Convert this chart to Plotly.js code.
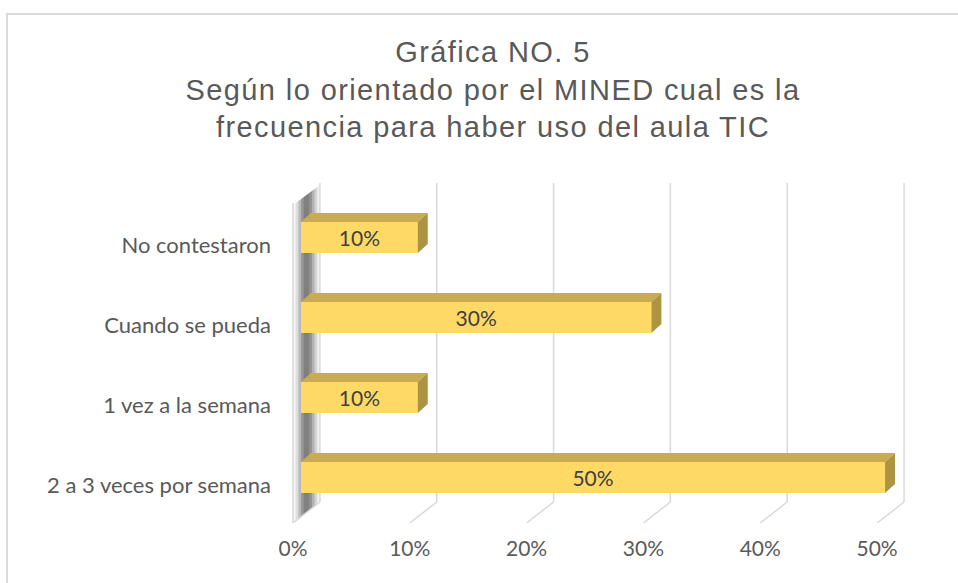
<!DOCTYPE html>
<html>
<head>
<meta charset="utf-8">
<script src="https://cdn.plot.ly/plotly-3.0.1.min.js"></script>
<style>
html,body{margin:0;padding:0;overflow:hidden;background:#fff;}
#wrap{position:relative;width:958px;height:583px;overflow:hidden;}
#chart{position:absolute;left:0;top:0;width:958px;height:583px;}
#frame{position:absolute;left:6px;top:13px;width:1200px;height:1000px;border:2px solid #d9d9d9;pointer-events:none;}
#chart .gtitle{letter-spacing:1.4px;}
</style>
</head>
<body>
<div id="wrap"><div id="chart"></div><div id="frame"></div></div>
<script>
// ---- data ----
const categories = ['2 a 3 veces por semana', '1 vez a la semana', 'Cuando se pueda', 'No contestaron'];
const values = [0.5, 0.1, 0.3, 0.1];
const tickValues = [0, 0.1, 0.2, 0.3, 0.4, 0.5];
const tickLabels = ['0%', '10%', '20%', '30%', '40%', '50%'];
const titleText = 'Gráfica NO. 5<br>Según lo orientado por el MINED cual es la<br>frecuencia para haber uso del aula TIC';

// ---- geometry (pixel scales of the 3D look) ----
const PXX = 1170;           // px per unit on x
const PXY = 80;             // px per category on y
const px = p => p / PXX;    // px -> x data
const py = p => p / PXY;    // px -> y data
const barW = 0.39;
const h = barW / 2;
const depthBarX = px(10), depthBarY = py(9);
const floorFrontY = -py(45.5), floorBackY = -py(24.5);
const gridTopY = py(477.5 - 183);
const floorFrontX = -px(8), floorBackX = px(19);

const shapes = [];
const gridColor = '#d9d9d9';
// left wall shading (slices)
const wallTones = [245, 222, 185, 150, 128, 128, 145, 178, 212, 240];
const n = wallTones.length;
for (let k = 0; k < n; k++) {
  const t0 = k * 27 / n, t1 = Math.min(27, (k + 1) * 27 / n + 0.8);
  const xa = floorFrontX + px(t0), xb = floorFrontX + px(t1);
  const yb0 = floorFrontY + py(t0 * 21 / 27), yb1 = floorFrontY + py(t1 * 21 / 27);
  const yt0 = py(477.5 - 205) + py(t0 * 20 / 27), yt1 = py(477.5 - 205) + py(t1 * 20 / 27);
  const c = wallTones[k];
  shapes.push({type:'path', xref:'x', yref:'y', layer:'below',
    path:`M${xa},${yb0} L${xa},${yt0} L${xb},${yt1} L${xb},${yb1} Z`,
    fillcolor:`rgb(${c},${c},${c})`, line:{width:0}});
}
// wall edge
shapes.push({type:'line', xref:'x', yref:'y', layer:'below', x0:floorFrontX, x1:floorFrontX, y0:floorFrontY, y1:py(477.5-203), line:{color:gridColor, width:1.5}});
// gridlines and floor diagonals
tickValues.forEach(v => {
  shapes.push({type:'line', xref:'x', yref:'y', layer:'below', x0:v+floorBackX, x1:v+floorBackX, y0:floorBackY, y1:gridTopY, line:{color:gridColor, width:1.5}});
  shapes.push({type:'line', xref:'x', yref:'y', layer:'below', x0:v+floorBackX, x1:v+floorFrontX, y0:floorBackY, y1:floorFrontY, line:{color:gridColor, width:1.5}});
});
// 3D faces of bars
values.forEach((v, i) => {
  const yt = i + h, yb = i - h;
  shapes.push({type:'path', xref:'x', yref:'y', layer:'above',
    path:`M0,${yt} L${v},${yt} L${v+depthBarX},${yt+depthBarY} L${depthBarX},${yt+depthBarY} Z`,
    fillcolor:'#C9AB52', line:{width:0}});
  shapes.push({type:'path', xref:'x', yref:'y', layer:'above',
    path:`M${v},${yb} L${v},${yt} L${v+depthBarX},${yt+depthBarY} L${v+depthBarX},${yb+depthBarY} Z`,
    fillcolor:'#AD9443', line:{width:0}});
});

const trace = {
  type:'bar', orientation:'h',
  x: values, y: categories,
  width: barW,
  marker:{color:'#FFD966', line:{width:0}},
  text: values.map(v => Math.round(v*100) + '%'),
  textposition:'inside', insidetextanchor:'middle',
  textfont:{family:'Lato, Carlito, sans-serif', size:21, color:'#404040'},
  constraintext:'none',
  hoverinfo:'skip'
};

const layout = {
  width:958, height:583, autosize:false,
  margin:{l:280, r:50, t:180, b:60, pad:0},
  paper_bgcolor:'#ffffff', plot_bgcolor:'rgba(0,0,0,0)',
  showlegend:false,
  title:{text:titleText, x:493/958, xref:'container', xanchor:'center', y:1-62/583, yanchor:'top',
    font:{family:'Liberation Sans, Arial, sans-serif', size:29, color:'#595959'}},
  xaxis:{range:[-px(21), px(608)], tickvals:tickValues, ticktext:tickLabels, showgrid:false, zeroline:false,
    showline:false, ticks:'', ticklabelshift:-8, ticklabelstandoff:11,
    tickfont:{family:'Lato, Carlito, sans-serif', size:21, color:'#595959'}, fixedrange:true},
  yaxis:{type:'category', categoryorder:'array', categoryarray:categories,
    range:[-py(45.5), py(477.5-180)], showgrid:false, zeroline:false, showline:false, ticks:'',
    ticklabelshift:8, ticklabelstandoff:8,
    tickfont:{family:'Lato, Carlito, sans-serif', size:22, color:'#595959'}, fixedrange:true},
  shapes: shapes
};

Plotly.newPlot('chart', [trace], layout, {displayModeBar:false, staticPlot:true});
</script>
</body>
</html>
